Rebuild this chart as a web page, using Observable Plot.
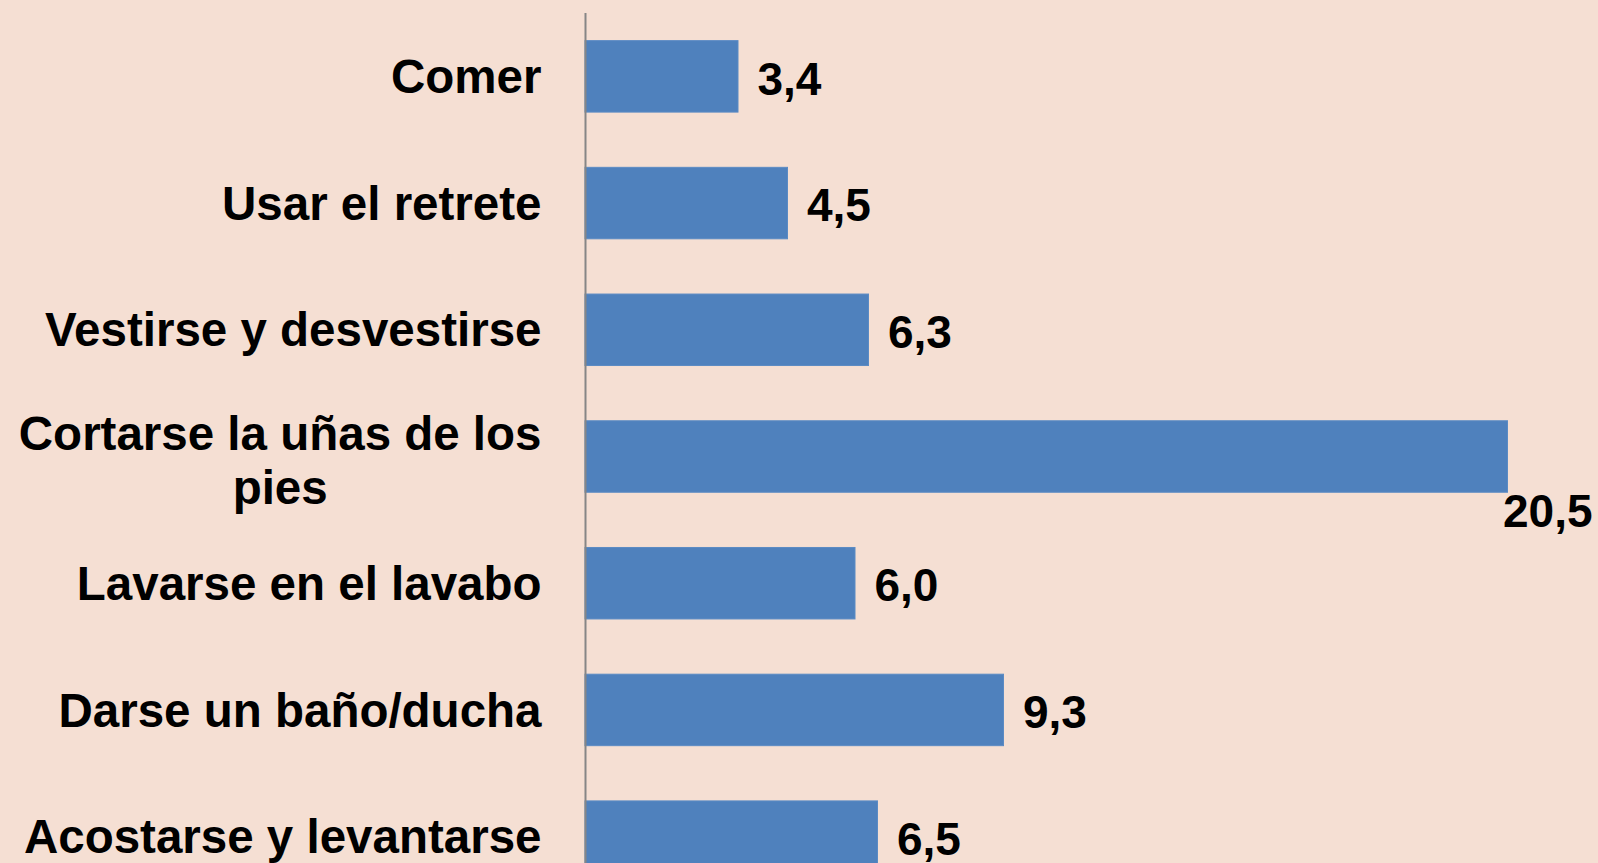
<!DOCTYPE html>
<html>
<head>
<meta charset="utf-8">
<script src="https://cdn.jsdelivr.net/npm/d3@7"></script>
<script src="https://cdn.jsdelivr.net/npm/@observablehq/plot@0.6"></script>
<style>
  html, body { margin: 0; padding: 0; overflow: hidden; background: #F5DFD3; }
  #chart svg { display: block; }
</style>
</head>
<body>
<div id="chart"></div>
<script>
const categories = ["Comer", "Usar el retrete", "Vestirse y desvestirse", "Cortarse la uñas de los pies", "Lavarse en el lavabo", "Darse un baño/ducha", "Acostarse y levantarse"];
const categoryLabels = ["Comer", "Usar el retrete", "Vestirse y desvestirse", "Cortarse la uñas de los\npies", "Lavarse en el lavabo", "Darse un baño/ducha", "Acostarse y levantarse"];
const values = [3.4, 4.5, 6.3, 20.5, 6.0, 9.3, 6.5];

const data = categories.map((c, i) => ({cat: c, label: categoryLabels[i], value: values[i]}));
const fmt = v => v.toFixed(1).replace(".", ",");

const font = "'Liberation Sans', Arial, Helvetica, sans-serif";
const catSize = 47.5;
const valSize = 46;
const labelGap = 44;

// measure widest line of multi-line label to center its lines under the right-aligned block
const ctx = document.createElement("canvas").getContext("2d");
ctx.font = `bold ${catSize}px ${font}`;
const multiRows = data.filter(d => d.label.includes("\n"));
const singleRows = data.filter(d => !d.label.includes("\n"));
const multiW = multiRows.length ? Math.max(...multiRows[0].label.split("\n").map(s => ctx.measureText(s).width)) : 0;

const maxV = d3.max(values);
const normalRows = data.filter(d => d.value < maxV);
const maxRows = data.filter(d => d.value === maxV);

const chart = Plot.plot({
  width: 1598,
  height: 900,
  marginLeft: 585,
  marginRight: 23,
  marginTop: 13,
  marginBottom: 0,
  style: {background: "#F5DFD3", fontFamily: font, overflow: "visible"},
  x: {domain: [0, 22], axis: null},
  y: {domain: categories, paddingInner: 0.436, paddingOuter: 0.218, round: false, axis: null},
  marks: [
    Plot.barX(data, {x: "value", y: "cat", fill: "#4F81BD", stroke: "#5B8BC4", strokeWidth: 1}),
    Plot.ruleX([0], {stroke: "#868686", strokeWidth: 2}),
    Plot.text(singleRows, {x: 0, y: "cat", text: "label", textAnchor: "end", dx: -labelGap, dy: 1,
      fontSize: catSize, fontWeight: "bold", fill: "#000"}),
    Plot.text(multiRows, {x: 0, y: "cat", text: "label", textAnchor: "middle", dx: -labelGap - multiW / 2, dy: 3,
      lineHeight: 1.13, fontSize: catSize, fontWeight: "bold", fill: "#000"}),
    Plot.text(normalRows, {x: "value", y: "cat", text: d => fmt(d.value), textAnchor: "start", dx: 19, dy: 3,
      fontSize: valSize, fontWeight: "bold", fill: "#000"}),
    Plot.text(maxRows, {x: "value", y: "cat", text: d => fmt(d.value), textAnchor: "start", dx: -5, dy: 55,
      fontSize: valSize, fontWeight: "bold", fill: "#000"})
  ]
});
document.getElementById("chart").append(chart);
</script>
</body>
</html>
